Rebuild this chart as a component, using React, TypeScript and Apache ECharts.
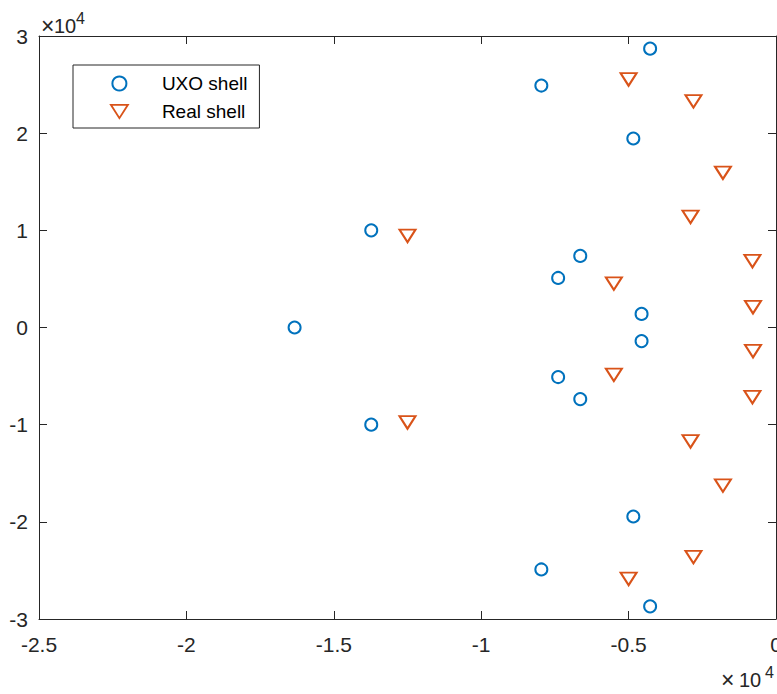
import React, { useEffect, useRef } from "react";
import * as echarts from "echarts";

const uxoX = [-4270, -7960, -4840, -13730, -6640, -7390, -4560, -16330, -4560, -7390, -6640, -13730, -4840, -7960, -4270];
const uxoY = [28700, 24900, 19450, 10000, 7370, 5100, 1400, 0, -1400, -5100, -7370, -10000, -19450, -24900, -28700];

const realX = [-5000, -2800, -1800, -2900, -12500, -800, -5500, -780, -780, -5500, -800, -12500, -2900, -1800, -2800, -5000];
const realY = [25700, 23450, 16100, 11550, 9600, 7000, 4700, 2260, -2260, -4700, -7000, -9600, -11550, -16100, -23450, -25700];

const seriesNames = ["UXO shell", "Real shell"];
const xRange = [-25000, 0];
const yRange = [-30000, 30000];
const xStep = 5000;
const yStep = 10000;

const FONT = "'Liberation Sans', Arial, Helvetica, sans-serif";
const AXIS_COLOR = "#262626";
const BLUE = "#0072BD";
const ORANGE = "#D95319";

export default function App() {
  const ref = useRef<HTMLDivElement>(null);

  useEffect(() => {
    if (!ref.current) return;
    const chart = echarts.init(ref.current, undefined, { renderer: "svg" });
    const fmt = (v: number) => String(Math.round(v / 1000) / 10);
    const axisCommon = {
      axisLine: { show: true, onZero: false, lineStyle: { color: AXIS_COLOR, width: 1 } },
      axisTick: { show: true, inside: true, length: 8, lineStyle: { color: AXIS_COLOR, width: 1 } },
      splitLine: { show: false },
    };
    const txt = (text: string, left: number, top: number, fontSize: number) => ({
      type: "text",
      left,
      top,
      style: { text, fontSize, fill: AXIS_COLOR, fontFamily: FONT },
    });
    chart.setOption({
      animation: false,
      backgroundColor: "#ffffff",
      grid: { left: 39, right: 1, top: 36, bottom: 75, containLabel: false, outerBoundsMode: "none" },
      xAxis: [
        {
          type: "value",
          min: xRange[0],
          max: xRange[1],
          interval: xStep,
          position: "bottom",
          ...axisCommon,
          axisLabel: { show: true, margin: 15, fontSize: 21, color: AXIS_COLOR, fontFamily: FONT, formatter: fmt },
        },
        {
          type: "value",
          min: xRange[0],
          max: xRange[1],
          interval: xStep,
          position: "top",
          ...axisCommon,
          axisLabel: { show: false },
        },
      ],
      yAxis: [
        {
          type: "value",
          min: yRange[0],
          max: yRange[1],
          interval: yStep,
          position: "left",
          ...axisCommon,
          axisLabel: { show: true, margin: 11, fontSize: 21, color: AXIS_COLOR, fontFamily: FONT, formatter: fmt },
        },
        {
          type: "value",
          min: yRange[0],
          max: yRange[1],
          interval: yStep,
          position: "right",
          ...axisCommon,
          axisLabel: { show: false },
        },
      ],
      legend: {
        left: 73,
        top: 65,
        orient: "vertical",
        itemWidth: 17,
        itemHeight: 14,
        itemGap: 9,
        padding: [9, 12, 7, 37],
        borderColor: AXIS_COLOR,
        borderWidth: 1,
        backgroundColor: "#ffffff",
        textStyle: { fontSize: 19, color: "#000000", fontFamily: FONT, padding: [0, 0, 0, 29] },
        data: [
          { name: seriesNames[0] },
          {
            name: seriesNames[1],
            icon: "path://M0,0L32,0L16,25Z",
            itemStyle: { color: "#ffffff", borderColor: ORANGE, borderWidth: 1.8 },
          },
        ],
      },
      graphic: [
        txt("×", 41, 14, 23),
        txt("10", 54, 16, 20),
        txt("4", 76, 10, 16),
        txt("×", 721, 668, 23),
        txt("10", 739, 670, 20),
        txt("4", 765, 664, 16),
      ],
      series: [
        {
          name: seriesNames[0],
          type: "scatter",
          symbol: "emptyCircle",
          symbolSize: 12,
          itemStyle: { color: BLUE, borderColor: BLUE, borderWidth: 1.8, opacity: 1 },
          data: uxoX.map((x, i) => [x, uxoY[i]]),
        },
        {
          name: seriesNames[1],
          type: "scatter",
          symbol: "emptyTriangle",
          symbolRotate: 180,
          symbolSize: [16, 12.5],
          symbolOffset: [0, 1.7],
          itemStyle: { color: ORANGE, borderColor: ORANGE, borderWidth: 1.8, opacity: 1 },
          data: realX.map((x, i) => [x, realY[i]]),
        },
      ],
    });
    return () => chart.dispose();
  }, []);

  return (
    <div
      ref={ref}
      style={{ position: "fixed", left: 0, top: 0, width: 777, height: 694, background: "#ffffff" }}
    />
  );
}
